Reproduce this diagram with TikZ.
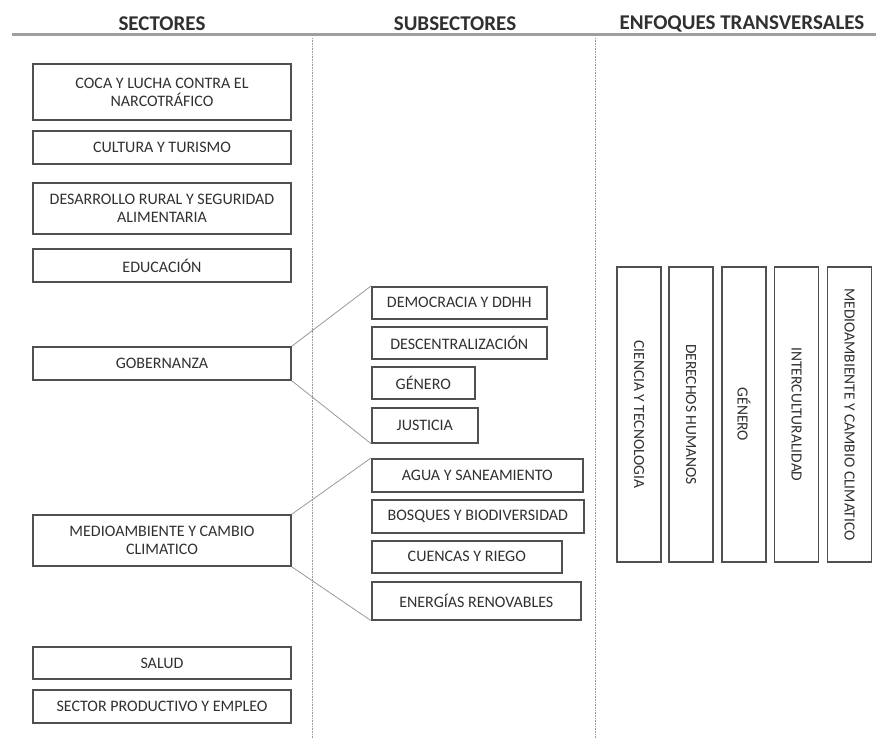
\documentclass[tikz,border=0pt]{standalone}
\usepackage{fontspec}
\setmainfont{Carlito}
\usepackage{tikz}
\usetikzlibrary{positioning}
\definecolor{txtgray}{HTML}{303030}
\definecolor{boxgray}{HTML}{505050}
\definecolor{linegray}{HTML}{9A9A9A}

\begin{document}
\begin{tikzpicture}[x=1pt, y=-1pt]
	\tikzstyle{every node} = [text = txtgray, inner sep = 0pt]
	\tikzstyle{head} = [font = \fontsize{21}{24}\selectfont\bfseries]
	\tikzstyle{sector} = [rectangle, draw = boxgray, line width = 1.6pt, minimum width = 258pt, align = center, font = \fontsize{16}{18}\selectfont]
	\tikzstyle{subsector} = [rectangle, draw = boxgray, line width = 1.6pt, anchor = north west, font = \fontsize{16}{18}\selectfont]
	\tikzstyle{enfoque} = [rectangle, draw = boxgray, line width = 1.6pt, minimum width = 44pt, minimum height = 295pt, font = \fontsize{15.5}{18}\selectfont]
	\tikzstyle{link} = [draw = linegray, line width = 0.8pt]
	\useasboundingbox (0,0) rectangle (876,738);

	% headers
	\node[head] (hsec) at (162,23.5) {SECTORES};
	\node[head] (hsub) at (455,23.5) {SUBSECTORES};
	\node[head] (henf) at (742,23.5) {ENFOQUES TRANSVERSALES};
	\coordinate (l0) at (12,34.5);
	\coordinate (l1) at (876,34.5);
	\path[draw = gray!75, line width = 2.4pt] (l0) -- (l1);
	\coordinate (d0) at (312,38);
	\coordinate (d1) at (312,738);
	\coordinate (e0) at (595,38);
	\coordinate (e1) at (595,738);
	\path[draw = gray!80, densely dotted, line width = 0.6pt] (d0) -- (d1);
	\path[draw = gray!80, densely dotted, line width = 0.6pt] (e0) -- (e1);

	% sectores
	\node[sector, minimum height = 56pt] (coca) at (162,92) {COCA Y LUCHA CONTRA EL\\NARCOTRÁFICO};
	\node[sector, minimum height = 33pt] (cult) at (162,147.5) {CULTURA Y TURISMO};
	\node[sector, minimum height = 51pt] (desa) at (162,208.5) {DESARROLLO RURAL Y SEGURIDAD\\ALIMENTARIA};
	\node[sector, minimum height = 33pt] (educ) at (162,265.5) {EDUCACIÓN};
	\node[sector, minimum height = 33pt] (gob) at (162,363.5) {GOBERNANZA};
	\node[sector, minimum height = 51pt] (medio) at (162,540.5) {MEDIOAMBIENTE Y CAMBIO\\CLIMATICO};
	\node[sector, minimum height = 32pt] (salud) at (162,663) {SALUD};
	\node[sector, minimum height = 33pt] (prod) at (162,706.5) {SECTOR PRODUCTIVO Y EMPLEO};

	% subsectores
	\node[subsector, minimum width = 175pt, minimum height = 32pt] (demo) at (371,286) {DEMOCRACIA Y DDHH};
	\node[subsector, minimum width = 175pt, minimum height = 32pt] (desc) at (371,326) {DESCENTRALIZACIÓN};
	\node[subsector, minimum width = 103pt, minimum height = 32pt] (gen) at (371,366) {GÉNERO};
	\node[subsector, minimum width = 106pt, minimum height = 35pt] (just) at (371,407) {JUSTICIA};
	\node[subsector, minimum width = 211pt, minimum height = 33pt] (agua) at (371,458) {AGUA Y SANEAMIENTO};
	\node[subsector, minimum width = 212pt, minimum height = 33pt] (bosq) at (371,499) {BOSQUES Y BIODIVERSIDAD};
	\node[subsector, minimum width = 190pt, minimum height = 32pt] (cuen) at (371,540) {CUENCAS Y RIEGO};
	\node[subsector, minimum width = 209pt, minimum height = 38pt] (ener) at (371,581) {ENERGÍAS RENOVABLES};

	\path[link] (gob.north east) -- (demo.north west);
	\path[link] (gob.south east) -- (just.south west);
	\path[link] (medio.north east) -- (agua.north west);
	\path[link] (medio.south east) -- (ener.south west);

	% enfoques transversales
	\node[enfoque] (cien) at (639,414.5) {\rotatebox{-90}{CIENCIA Y TECNOLOGIA}};
	\node[enfoque] (ddhh) at (691,414.5) {\rotatebox{-90}{DERECHOS HUMANOS}};
	\node[enfoque] (gene) at (744,414.5) {\rotatebox{-90}{GÉNERO}};
	\node[enfoque] (inter) at (796.5,414.5) {\rotatebox{-90}{INTERCULTURALIDAD}};
	\node[enfoque] (mamb) at (849.5,414.5) {\rotatebox{-90}{MEDIOAMBIENTE Y CAMBIO CLIMATICO}};
\end{tikzpicture}
\end{document}
